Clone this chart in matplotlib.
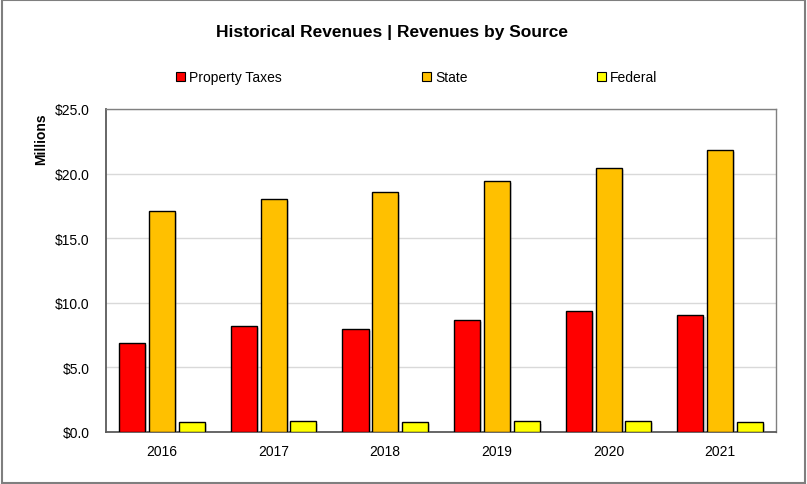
import numpy as np
import matplotlib
matplotlib.use("Agg")
import matplotlib.pyplot as plt
import matplotlib.patheffects as pe
from matplotlib.patches import Rectangle, Patch

plt.rcParams['font.family'] = ['Liberation Sans', 'DejaVu Sans']

# Revenues by source, in millions of dollars
years = ['2016', '2017', '2018', '2019', '2020', '2021']
property_taxes = [6.90, 8.16, 7.93, 8.65, 9.33, 9.07]
state = [17.13, 18.03, 18.53, 19.40, 20.43, 21.81]
federal = [0.74, 0.78, 0.74, 0.78, 0.80, 0.72]

series = [
    ('Property Taxes', property_taxes, '#FF0000'),
    ('State', state, '#FFC000'),
    ('Federal', federal, '#FFFF00'),
]

fig = plt.figure(figsize=(8.07, 4.85), dpi=100)
ax = fig.add_axes([0.1314, 0.1082, 0.8302, 0.6650])

x = np.arange(len(years))
width = 0.233
pitch = 0.266
shadow = [pe.SimplePatchShadow(offset=(1.5, -1.5), shadow_rgbFace='#999999', alpha=0.35), pe.Normal()]

for i, (name, vals, color) in enumerate(series):
    bars = ax.bar(x + (i - 1) * pitch, vals, width, color=color,
                  edgecolor='black', linewidth=1.0, label=name, zorder=3)
    for b in bars:
        b.set_path_effects(shadow)

ax.set_xlim(-0.5, len(years) - 0.5)
ax.set_ylim(0, 25)
ax.set_yticks(np.arange(0, 25.1, 5))
ax.set_yticklabels([f'${v:.1f}' for v in np.arange(0, 25.1, 5)])
ax.set_xticks(x)
ax.set_xticklabels(years)
ax.tick_params(axis='both', length=0, labelsize=10, colors='black')
ax.tick_params(axis='x', pad=9)
ax.tick_params(axis='y', pad=12)

ax.grid(axis='y', color='#d9d9d9', linewidth=1.0, zorder=0)
for side, sp in ax.spines.items():
    sp.set_color('#808080')
    sp.set_linewidth(1.0)
ax.spines['left'].set_color('#5a5a5a')
ax.spines['bottom'].set_color('#5a5a5a')
ax.spines['left'].set_linewidth(1.3)
ax.spines['bottom'].set_linewidth(1.3)

fig.text(0.486, 0.932, 'Historical Revenues | Revenues by Source',
         ha='center', va='center', fontsize=12.5, fontweight='bold')
fig.text(0.051, 0.712, 'Millions', rotation=90, ha='center', va='center',
         fontsize=10, fontweight='bold')

# legend entries placed one by one so the spacing follows the chart
legend_x = [0.2175, 0.5225, 0.740]
for (name, _, color), lx in zip(series, legend_x):
    fig.legend([Patch(facecolor=color, edgecolor='black', linewidth=0.8)], [name],
               loc='center left', bbox_to_anchor=(lx, 0.839), frameon=False,
               fontsize=10, handlelength=0.65, handleheight=0.65, handletextpad=0.3,
               borderpad=0, borderaxespad=0)

# outer chart border
fig.patches.append(Rectangle((0.002, 0.002), 0.996, 0.996, transform=fig.transFigure,
                             fill=False, edgecolor='#7f7f7f', linewidth=1.5))

fig.savefig('out.png', dpi=100, facecolor='white')
